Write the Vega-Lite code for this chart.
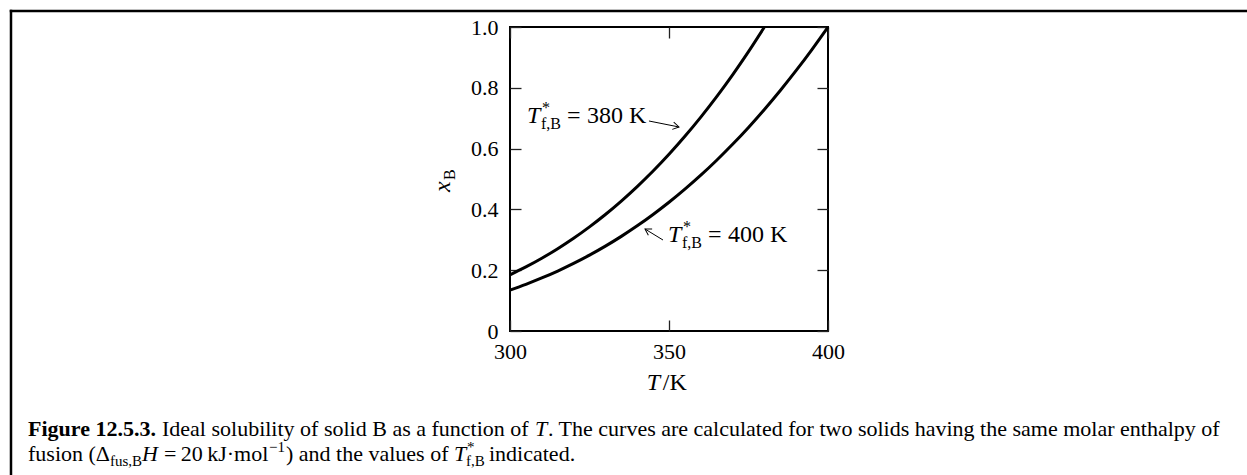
{
  "$schema": "https://vega.github.io/schema/vega-lite/v6.json",
  "autosize": {"type": "none"},
  "padding": {"left": 510, "top": 27, "right": 419, "bottom": 144},
  "width": 318,
  "height": 304,
  "background": "white",
  "data": {"values": [{}]},
  "datasets": {
    "c380": [
      {"T": 300, "xB": 0.1849}, {"T": 305, "xB": 0.2108}, {"T": 310, "xB": 0.2394}, {"T": 315, "xB": 0.2708},
      {"T": 320, "xB": 0.3051}, {"T": 325, "xB": 0.3426}, {"T": 330, "xB": 0.3832}, {"T": 335, "xB": 0.4273},
      {"T": 340, "xB": 0.4749}, {"T": 345, "xB": 0.5261}, {"T": 350, "xB": 0.5812}, {"T": 355, "xB": 0.6403},
      {"T": 360, "xB": 0.7035}, {"T": 365, "xB": 0.7709}, {"T": 370, "xB": 0.8427}, {"T": 375, "xB": 0.9191},
      {"T": 380, "xB": 1.0}
    ],
    "c400": [
      {"T": 300, "xB": 0.1347}, {"T": 305, "xB": 0.1536}, {"T": 310, "xB": 0.1745}, {"T": 315, "xB": 0.1973},
      {"T": 320, "xB": 0.2224}, {"T": 325, "xB": 0.2496}, {"T": 330, "xB": 0.2792}, {"T": 335, "xB": 0.3113},
      {"T": 340, "xB": 0.3460}, {"T": 345, "xB": 0.3834}, {"T": 350, "xB": 0.4235}, {"T": 355, "xB": 0.4666},
      {"T": 360, "xB": 0.5126}, {"T": 365, "xB": 0.5618}, {"T": 370, "xB": 0.6141}, {"T": 375, "xB": 0.6697},
      {"T": 380, "xB": 0.7287}, {"T": 385, "xB": 0.7911}, {"T": 390, "xB": 0.8571}, {"T": 395, "xB": 0.9267},
      {"T": 400, "xB": 1.0}
    ]
  },
  "resolve": {"axis": {"x": "independent", "y": "independent"}},
  "config": {
    "font": "Liberation Serif",
    "view": {"stroke": "black", "strokeWidth": 2},
    "axis": {
      "domain": false, "grid": false, "tickSize": -11, "tickColor": "#222", "tickWidth": 1.3,
      "labelFont": "Liberation Serif", "labelFontSize": 22, "labelColor": "black", "labelFlush": false
    },
    "text": {"font": "Liberation Serif", "color": "black"}
  },
  "layer": [
    {
      "data": {"name": "c380"},
      "mark": {"type": "line", "color": "black", "strokeWidth": 3, "interpolate": "monotone"},
      "encoding": {
        "x": {"field": "T", "type": "quantitative", "scale": {"domain": [300, 400], "nice": false, "zero": false},
              "axis": {"orient": "bottom", "values": [300, 350, 400], "title": null, "labelPadding": 21, "labelBaseline": "top"}},
        "y": {"field": "xB", "type": "quantitative", "scale": {"domain": [0, 1], "nice": false, "zero": false},
              "axis": {"orient": "left", "values": [0, 0.2, 0.4, 0.6, 0.8, 1.0], "title": null, "labelPadding": 23,
                       "labelExpr": "datum.value == 0 ? '0' : format(datum.value, '.1f')"}}
      }
    },
    {
      "data": {"name": "c400"},
      "mark": {"type": "line", "color": "black", "strokeWidth": 3, "interpolate": "monotone"},
      "encoding": {
        "x": {"field": "T", "type": "quantitative", "scale": {"domain": [300, 400], "nice": false, "zero": false},
              "axis": {"orient": "top", "values": [300, 350, 400], "title": null, "labels": false}},
        "y": {"field": "xB", "type": "quantitative", "scale": {"domain": [0, 1], "nice": false, "zero": false},
              "axis": {"orient": "right", "values": [0, 0.2, 0.4, 0.6, 0.8, 1.0], "title": null, "labels": false}}
      }
    },
    {
      "mark": {"type": "rule", "color": "black", "strokeWidth": 2.5, "strokeCap": "square"},
      "encoding": {
        "x": {"datum": 143.08, "type": "quantitative", "axis": null},
        "x2": {"datum": 540},
        "y": {"datum": 1.0526, "type": "quantitative", "axis": null}
      }
    },
    {
      "mark": {"type": "rule", "color": "black", "strokeWidth": 2.5, "strokeCap": "square"},
      "encoding": {
        "x": {"datum": 143.08, "type": "quantitative", "axis": null},
        "y": {"datum": 1.0526, "type": "quantitative", "axis": null},
        "y2": {"datum": -0.5}
      }
    },
    {
      "mark": {"type": "rule", "color": "black", "strokeWidth": 1},
      "encoding": {
        "x": {"datum": 343.7, "type": "quantitative", "axis": null},
        "y": {"datum": 0.6908, "type": "quantitative", "axis": null},
        "x2": {"datum": 353.14},
        "y2": {"datum": 0.6711}
      }
    },
    {
      "mark": {"type": "point", "shape": "M -1 -0.6 L 0 0 L -1 0.6", "filled": false, "stroke": "black", "strokeWidth": 1, "opacity": 1, "size": 150, "angle": 11.6},
      "encoding": {
        "x": {"datum": 353.14, "type": "quantitative", "axis": null},
        "y": {"datum": 0.6711, "type": "quantitative", "axis": null}
      }
    },
    {
      "mark": {"type": "rule", "color": "black", "strokeWidth": 1},
      "encoding": {
        "x": {"datum": 348.11, "type": "quantitative", "axis": null},
        "y": {"datum": 0.2993, "type": "quantitative", "axis": null},
        "x2": {"datum": 342.45},
        "y2": {"datum": 0.3355}
      }
    },
    {
      "mark": {"type": "point", "shape": "M -1 -0.6 L 0 0 L -1 0.6", "filled": false, "stroke": "black", "strokeWidth": 1, "opacity": 1, "size": 150, "angle": 211},
      "encoding": {
        "x": {"datum": 342.45, "type": "quantitative", "axis": null},
        "y": {"datum": 0.3355, "type": "quantitative", "axis": null}
      }
    },
    {
      "mark": {"type": "text", "text": "T", "fontSize": 24, "fontStyle": "italic", "align": "left", "baseline": "alphabetic"},
      "encoding": {"x": {"datum": 305.35, "type": "quantitative", "axis": null}, "y": {"datum": 0.6842, "type": "quantitative", "axis": null}}
    },
    {
      "mark": {"type": "text", "text": "*", "fontSize": 16, "align": "left", "baseline": "alphabetic", "dx": 15, "dy": -10},
      "encoding": {"x": {"datum": 305.35, "type": "quantitative", "axis": null}, "y": {"datum": 0.6842, "type": "quantitative", "axis": null}}
    },
    {
      "mark": {"type": "text", "text": "f,B", "fontSize": 16, "align": "left", "baseline": "alphabetic", "dx": 14, "dy": 6},
      "encoding": {"x": {"datum": 305.35, "type": "quantitative", "axis": null}, "y": {"datum": 0.6842, "type": "quantitative", "axis": null}}
    },
    {
      "mark": {"type": "text", "text": "=", "fontSize": 24, "align": "left", "baseline": "alphabetic", "dx": 40},
      "encoding": {"x": {"datum": 305.35, "type": "quantitative", "axis": null}, "y": {"datum": 0.6842, "type": "quantitative", "axis": null}}
    },
    {
      "mark": {"type": "text", "text": "380 K", "fontSize": 24, "align": "left", "baseline": "alphabetic", "dx": 60},
      "encoding": {"x": {"datum": 305.35, "type": "quantitative", "axis": null}, "y": {"datum": 0.6842, "type": "quantitative", "axis": null}}
    },
    {
      "mark": {"type": "text", "text": "T", "fontSize": 24, "fontStyle": "italic", "align": "left", "baseline": "alphabetic"},
      "encoding": {"x": {"datum": 349.69, "type": "quantitative", "axis": null}, "y": {"datum": 0.2928, "type": "quantitative", "axis": null}}
    },
    {
      "mark": {"type": "text", "text": "*", "fontSize": 16, "align": "left", "baseline": "alphabetic", "dx": 15, "dy": -10},
      "encoding": {"x": {"datum": 349.69, "type": "quantitative", "axis": null}, "y": {"datum": 0.2928, "type": "quantitative", "axis": null}}
    },
    {
      "mark": {"type": "text", "text": "f,B", "fontSize": 16, "align": "left", "baseline": "alphabetic", "dx": 14, "dy": 6},
      "encoding": {"x": {"datum": 349.69, "type": "quantitative", "axis": null}, "y": {"datum": 0.2928, "type": "quantitative", "axis": null}}
    },
    {
      "mark": {"type": "text", "text": "=", "fontSize": 24, "align": "left", "baseline": "alphabetic", "dx": 40},
      "encoding": {"x": {"datum": 349.69, "type": "quantitative", "axis": null}, "y": {"datum": 0.2928, "type": "quantitative", "axis": null}}
    },
    {
      "mark": {"type": "text", "text": "400 K", "fontSize": 24, "align": "left", "baseline": "alphabetic", "dx": 60},
      "encoding": {"x": {"datum": 349.69, "type": "quantitative", "axis": null}, "y": {"datum": 0.2928, "type": "quantitative", "axis": null}}
    },
    {
      "mark": {"type": "text", "text": "x", "fontSize": 24, "fontStyle": "italic", "align": "left", "baseline": "alphabetic", "angle": 270},
      "encoding": {"x": {"datum": 281.13, "type": "quantitative", "axis": null}, "y": {"datum": 0.4572, "type": "quantitative", "axis": null}}
    },
    {
      "mark": {"type": "text", "text": "B", "fontSize": 16, "align": "left", "baseline": "alphabetic", "angle": 270, "dx": 12, "dy": 5},
      "encoding": {"x": {"datum": 281.13, "type": "quantitative", "axis": null}, "y": {"datum": 0.4572, "type": "quantitative", "axis": null}}
    },
    {
      "mark": {"type": "text", "text": "T", "fontSize": 24, "fontStyle": "italic", "align": "left", "baseline": "alphabetic"},
      "encoding": {"x": {"datum": 343.0, "type": "quantitative", "axis": null}, "y": {"datum": -0.1941, "type": "quantitative", "axis": null}}
    },
    {
      "mark": {"type": "text", "text": "/K", "fontSize": 24, "align": "left", "baseline": "alphabetic", "dx": 16},
      "encoding": {"x": {"datum": 343.0, "type": "quantitative", "axis": null}, "y": {"datum": -0.1941, "type": "quantitative", "axis": null}}
    },
    {
      "mark": {"type": "text", "text": "Figure 12.5.3.", "fontSize": 22, "fontWeight": "bold", "align": "left", "baseline": "alphabetic"},
      "encoding": {"x": {"datum": 148.43, "type": "quantitative", "axis": null}, "y": {"datum": -0.3454, "type": "quantitative", "axis": null}}
    },
    {
      "mark": {"type": "text", "text": "Ideal solubility of solid B as a function of", "fontSize": 22, "align": "left", "baseline": "alphabetic", "dx": 134},
      "encoding": {"x": {"datum": 148.43, "type": "quantitative", "axis": null}, "y": {"datum": -0.3454, "type": "quantitative", "axis": null}}
    },
    {
      "mark": {"type": "text", "text": "T", "fontSize": 22, "fontStyle": "italic", "align": "left", "baseline": "alphabetic", "dx": 507},
      "encoding": {"x": {"datum": 148.43, "type": "quantitative", "axis": null}, "y": {"datum": -0.3454, "type": "quantitative", "axis": null}}
    },
    {
      "mark": {"type": "text", "text": ". The curves are calculated for two solids having the same molar enthalpy of", "fontSize": 22, "align": "left", "baseline": "alphabetic", "dx": 520},
      "encoding": {"x": {"datum": 148.43, "type": "quantitative", "axis": null}, "y": {"datum": -0.3454, "type": "quantitative", "axis": null}}
    },
    {
      "mark": {"type": "text", "text": "fusion (Δ", "fontSize": 22, "align": "left", "baseline": "alphabetic"},
      "encoding": {"x": {"datum": 148.43, "type": "quantitative", "axis": null}, "y": {"datum": -0.4276, "type": "quantitative", "axis": null}}
    },
    {
      "mark": {"type": "text", "text": "fus,B", "fontSize": 15, "align": "left", "baseline": "alphabetic", "dx": 82, "dy": 5},
      "encoding": {"x": {"datum": 148.43, "type": "quantitative", "axis": null}, "y": {"datum": -0.4276, "type": "quantitative", "axis": null}}
    },
    {
      "mark": {"type": "text", "text": "H", "fontSize": 22, "fontStyle": "italic", "align": "left", "baseline": "alphabetic", "dx": 114},
      "encoding": {"x": {"datum": 148.43, "type": "quantitative", "axis": null}, "y": {"datum": -0.4276, "type": "quantitative", "axis": null}}
    },
    {
      "mark": {"type": "text", "text": "=\u200920\u2009kJ·mol", "fontSize": 22, "align": "left", "baseline": "alphabetic", "dx": 136},
      "encoding": {"x": {"datum": 148.43, "type": "quantitative", "axis": null}, "y": {"datum": -0.4276, "type": "quantitative", "axis": null}}
    },
    {
      "mark": {"type": "text", "text": "−1", "fontSize": 15, "align": "left", "baseline": "alphabetic", "dx": 241, "dy": -9},
      "encoding": {"x": {"datum": 148.43, "type": "quantitative", "axis": null}, "y": {"datum": -0.4276, "type": "quantitative", "axis": null}}
    },
    {
      "mark": {"type": "text", "text": ") and the values of", "fontSize": 22, "align": "left", "baseline": "alphabetic", "dx": 258},
      "encoding": {"x": {"datum": 148.43, "type": "quantitative", "axis": null}, "y": {"datum": -0.4276, "type": "quantitative", "axis": null}}
    },
    {
      "mark": {"type": "text", "text": "T", "fontSize": 22, "fontStyle": "italic", "align": "left", "baseline": "alphabetic", "dx": 426},
      "encoding": {"x": {"datum": 148.43, "type": "quantitative", "axis": null}, "y": {"datum": -0.4276, "type": "quantitative", "axis": null}}
    },
    {
      "mark": {"type": "text", "text": "*", "fontSize": 15, "align": "left", "baseline": "alphabetic", "dx": 439, "dy": -9},
      "encoding": {"x": {"datum": 148.43, "type": "quantitative", "axis": null}, "y": {"datum": -0.4276, "type": "quantitative", "axis": null}}
    },
    {
      "mark": {"type": "text", "text": "f,B", "fontSize": 15, "align": "left", "baseline": "alphabetic", "dx": 438, "dy": 5},
      "encoding": {"x": {"datum": 148.43, "type": "quantitative", "axis": null}, "y": {"datum": -0.4276, "type": "quantitative", "axis": null}}
    },
    {
      "mark": {"type": "text", "text": "indicated.", "fontSize": 22, "align": "left", "baseline": "alphabetic", "dx": 461},
      "encoding": {"x": {"datum": 148.43, "type": "quantitative", "axis": null}, "y": {"datum": -0.4276, "type": "quantitative", "axis": null}}
    }
  ]
}
